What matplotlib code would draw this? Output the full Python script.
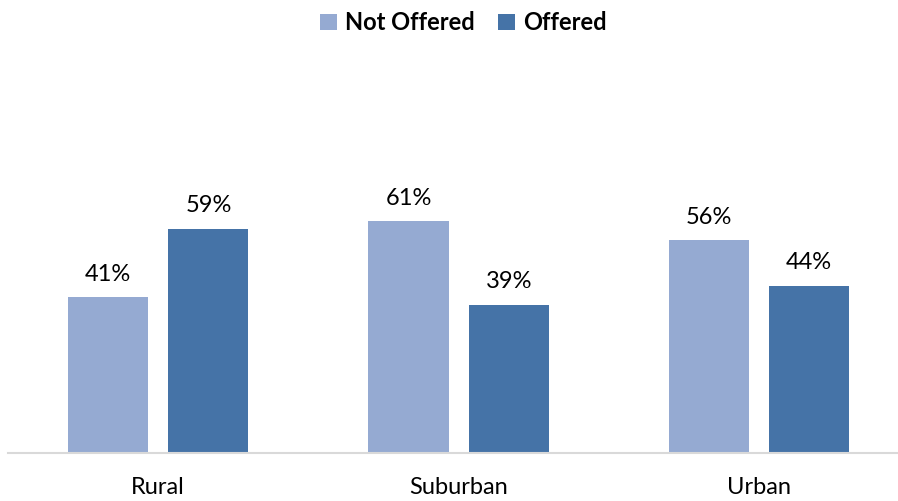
import matplotlib
matplotlib.use('Agg')
import matplotlib.pyplot as plt
import numpy as np

# Data
categories = ['Rural', 'Suburban', 'Urban']
not_offered = [41, 61, 56]
offered = [59, 39, 44]
series_names = ['Not Offered', 'Offered']

plt.rcParams['font.family'] = ['Lato', 'DejaVu Sans']

fig = plt.figure(figsize=(8.98, 5.01), dpi=100)
ax = fig.add_axes([8 / 898, 48 / 501, 890 / 898, 393 / 501])

x = np.arange(len(categories))
w = 0.267
off = 0.167
b1 = ax.bar(x - off, not_offered, w, color='#95AAD2', label=series_names[0])
b2 = ax.bar(x + off, offered, w, color='#4573A7', label=series_names[1])

for bars, vals in ((b1, not_offered), (b2, offered)):
    for rect, v in zip(bars, vals):
        ax.annotate('%d%%' % v, (rect.get_x() + rect.get_width() / 2, v),
                    xytext=(0, 9), textcoords='offset points',
                    ha='center', va='bottom', fontsize=17, color='#000000')

ax.set_xlim(-0.5, 740 / 300.5)
ax.set_ylim(0, 103.4)
ax.set_xticks(x)
ax.set_xticklabels(categories, fontsize=17)
ax.tick_params(axis='x', length=0, pad=17)
ax.set_yticks([])
for s in ('top', 'right', 'left'):
    ax.spines[s].set_visible(False)
ax.spines['bottom'].set_color('#D9D9D9')
ax.spines['bottom'].set_linewidth(1.5)

fig.legend(loc='upper center', bbox_to_anchor=(0.516, 1.02), ncol=2, frameon=False,
           prop={'weight': 'bold', 'size': 17}, handlelength=0.7, handleheight=0.7,
           handletextpad=0.35, columnspacing=1.0)

fig.savefig('out.png', dpi=100)
